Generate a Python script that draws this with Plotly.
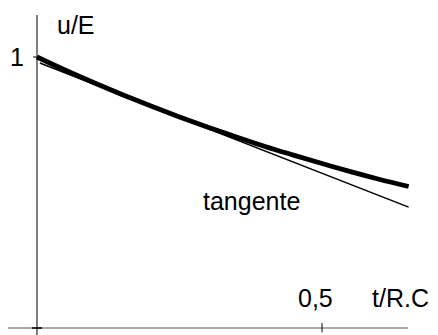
import plotly.graph_objects as go

# Curve u/E versus t/RC
t_curve = [0.0, 0.05, 0.10, 0.15, 0.20, 0.25, 0.30, 0.35, 0.40, 0.45, 0.50, 0.55, 0.60, 0.652]
u_curve = [1.0, 0.951, 0.905, 0.861, 0.819, 0.779, 0.741, 0.705, 0.670, 0.638, 0.607, 0.577, 0.549, 0.522]

# Tangent line
t_tan = [0.005, 0.652]
u_tan = [0.978, 0.446]

x_tick_vals = [0.5]
x_tick_text = ["0,5"]
y_tick_vals = [1]
y_tick_text = ["1"]

FONT = "Liberation Sans, Arial, sans-serif"
FS = 25
W, H = 438, 335
x0_px, y0_px = 37, 328
sx, sy = 570.0, 271.0
xr = [-x0_px / sx, (W - x0_px) / sx]
yr = [(y0_px - H) / sy, y0_px / sy]

fig = go.Figure()
fig.add_trace(go.Scatter(x=t_tan, y=u_tan, mode="lines",
                         line=dict(color="black", width=1.5), hoverinfo="skip"))
fig.add_trace(go.Scatter(x=t_curve, y=u_curve, mode="lines",
                         line=dict(color="black", width=4.8, shape="spline"), hoverinfo="skip"))

shapes = [
    dict(type="line", xref="x", yref="y", x0=0, x1=0, y0=yr[0], y1=(y0_px - 15) / sy,
         line=dict(color="black", width=1)),
    dict(type="line", xref="x", yref="y", x0=(8 - x0_px) / sx, x1=(408 - x0_px) / sx, y0=0, y1=0,
         line=dict(color="#555555", width=1)),
    dict(type="line", xref="x", yref="y", x0=-0.009, x1=0.009, y0=0, y1=0,
         line=dict(color="black", width=1.5)),
]
for v in x_tick_vals:
    shapes.append(dict(type="line", xref="x", yref="y", x0=v, x1=v, y0=0.018, y1=-0.016,
                       line=dict(color="black", width=1)))
for v in y_tick_vals:
    shapes.append(dict(type="line", xref="x", yref="y", x0=-0.007, x1=0, y0=v, y1=v,
                       line=dict(color="black", width=1)))

def txt(x, y, s):
    return dict(x=x, y=y, text=s, showarrow=False, xanchor="center", yanchor="middle",
                font=dict(family=FONT, size=FS, color="black"))

annotations = [
    txt(0.068, 1.118, "u/E"),
    txt(0.638, 0.112, "t/R.C"),
    txt(0.377, 0.468, "tangente"),
]
for v, s in zip(x_tick_vals, x_tick_text):
    annotations.append(txt(v - 0.0114, 0.112, s))
for v, s in zip(y_tick_vals, y_tick_text):
    annotations.append(txt(-0.035, v, s))

fig.update_layout(
    width=W, height=H, margin=dict(l=0, r=0, t=0, b=0),
    paper_bgcolor="white", plot_bgcolor="white", showlegend=False,
    xaxis=dict(range=xr, visible=False, fixedrange=True),
    yaxis=dict(range=yr, visible=False, fixedrange=True),
    shapes=shapes, annotations=annotations,
)
fig.write_html("out.html")
